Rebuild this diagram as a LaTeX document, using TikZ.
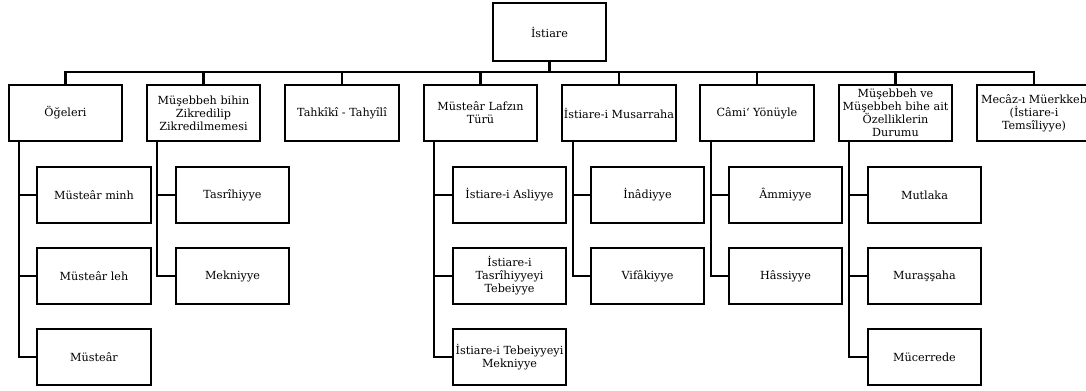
\documentclass[tikz,border=0pt]{standalone}
\usepackage{fontspec}
\setmainfont{DejaVu Serif}
\begin{document}
\begin{tikzpicture}[x=0.75pt,y=-0.75pt,
  box/.style={draw,line width=1.6pt,minimum width=85pt,minimum height=42.5pt,
    inner sep=1pt,align=center,font=\fontsize{8.4}{9.8}\selectfont},
  link/.style={line width=1.6pt}]
\useasboundingbox (0,0) rectangle (1086,391);

% root
\node[box,minimum height=43pt] (root) at (549.5,32) {İstiare};
\coordinate (bus) at (549.5,72);

% first level
\node[box] (o1) at (65.5,113) {Öğeleri};
\node[box] (o2) at (203.5,113) {Müşebbeh bihin\\Zikredilip\\Zikredilmemesi};
\node[box] (o3) at (342,113) {Tahkîkî - Tahyîlî};
\node[box] (o4) at (480.5,113) {Müsteâr Lafzın\\Türü};
\node[box] (o5) at (619,113) {İstiare-i Musarraha};
\node[box] (o6) at (757,113) {Câmi‘ Yönüyle};
\node[box] (o7) at (895.5,113) {Müşebbeh ve\\Müşebbeh bihe ait\\Özelliklerin\\Durumu};
\node[box] (o8) at (1034,113) {Mecâz-ı Müerkkeb\\(İstiare-i\\Temsîliyye)};

% second level
\node[box] (a1) at (94,195) {Müsteâr minh};
\node[box] (a2) at (94,276) {Müsteâr leh};
\node[box] (a3) at (94,357) {Müsteâr};

\node[box] (b1) at (232.5,195) {Tasrîhiyye};
\node[box] (b2) at (232.5,276) {Mekniyye};

\node[box] (d1) at (509.5,195) {İstiare-i Asliyye};
\node[box] (d2) at (509.5,276) {İstiare-i\\Tasrîhiyyeyi\\Tebeiyye};
\node[box] (d3) at (509.5,357) {İstiare-i Tebeiyyeyi\\Mekniyye};

\node[box] (e1) at (647.5,195) {İnâdiyye};
\node[box] (e2) at (647.5,276) {Vifâkiyye};

\node[box] (f1) at (785.5,195) {Âmmiyye};
\node[box] (f2) at (785.5,276) {Hâssiyye};

\node[box] (g1) at (924.5,195) {Mutlaka};
\node[box] (g2) at (924.5,276) {Muraşşaha};
\node[box] (g3) at (924.5,357) {Mücerrede};

% bus from the root
\draw[link] (root.south) -- (bus);
\foreach \n in {o1,o2,o3,o4,o5,o6,o7,o8}
  \draw[link] (\n.north) |- (bus);

% branches to the second level
\foreach \p/\c in {o1/a1,o1/a2,o1/a3,o2/b1,o2/b2,o4/d1,o4/d2,o4/d3,
                   o5/e1,o5/e2,o6/f1,o6/f2,o7/g1,o7/g2,o7/g3}
  \draw[link] ([xshift=8.5pt]\p.south west) |- (\c.west);
\end{tikzpicture}
\end{document}
